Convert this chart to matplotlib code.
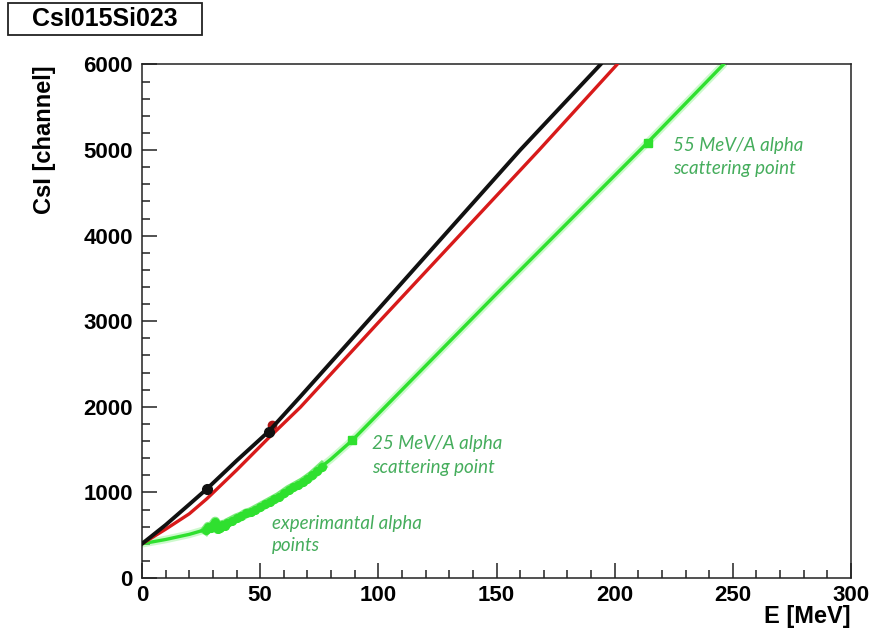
import matplotlib
matplotlib.use("Agg")
import matplotlib.pyplot as plt
from matplotlib.patches import Rectangle
from matplotlib.ticker import MultipleLocator

# ---------------- data ----------------
black_E = [0, 10, 20, 27.4, 40, 53.7, 67, 100, 160, 194]
black_ch = [400, 620, 860, 1040, 1370, 1715, 2120, 3140, 5000, 6000]

red_E = [0, 10, 20, 27.4, 40, 53.7, 67, 100, 168, 201]
red_ch = [400, 570, 750, 925, 1260, 1640, 1995, 2985, 5000, 6000]

black_pts_E = [27.4, 53.7]
black_pts_ch = [1040, 1710]
red_pts_E = [55.2]
red_pts_ch = [1790]

green_E = [0, 10, 20, 30, 40, 50, 60, 70, 80, 89, 150, 214, 246]
green_ch = [400, 450, 510, 590, 700, 830, 1000, 1170, 1390, 1610, 3320, 5090, 6000]

exp_E = [27, 28, 29, 30, 31, 31.5, 32, 33, 34, 35, 36, 38, 40, 42, 44, 46,
         48, 50, 52, 54, 56, 58, 60, 62, 64, 66, 68, 70, 72, 74, 76]
exp_ch = [560, 600, 580, 620, 660, 600, 570, 590, 620, 610, 640, 670, 700,
          720, 755, 770, 800, 830, 860, 890, 920, 950, 990, 1030, 1060, 1090,
          1120, 1160, 1200, 1250, 1300]

scat_E = [89, 214]
scat_ch = [1610, 5080]

title_text = "CsI015Si023"
xlabel_text = "E [MeV]"
ylabel_text = "CsI [channel]"
ann_55 = ["55 MeV/A alpha", "scattering point"]
ann_25 = ["25 MeV/A alpha", "scattering point"]
ann_exp = ["experimantal alpha", "points"]

# ---------------- figure ----------------
W, H = 871, 635
fig = plt.figure(figsize=(W / 100, H / 100), dpi=100)
fig.patch.set_facecolor("white")

L, R, T, B = 142, 851, 64.5, 578
ax = fig.add_axes([L / W, 1 - B / H, (R - L) / W, (B - T) / H])

BOLD = dict(family=["Liberation Sans", "DejaVu Sans"], weight="bold")

# lines
GREEN = "#2fe02f"
ax.plot(green_E, green_ch, color="#9af59a", lw=5.5, alpha=0.5, solid_capstyle="round", zorder=2)
ax.plot(green_E, green_ch, color=GREEN, lw=2.4, zorder=3)
ax.plot(exp_E, exp_ch, "o", color=GREEN, ms=5.5, mec=GREEN, zorder=3)
ax.plot(exp_E, exp_ch, color=GREEN, lw=7, alpha=0.6, zorder=3)
ax.plot(scat_E, scat_ch, "s", color=GREEN, ms=6, zorder=4)

ax.plot(red_E, red_ch, color="#d81a1a", lw=2.4, zorder=4)
ax.plot(red_pts_E, red_pts_ch, "o", color="#b01515", ms=6, zorder=4)
ax.plot(black_E, black_ch, color="#111111", lw=2.8, zorder=5)
ax.plot(black_pts_E, black_pts_ch, "o", color="#111111", ms=7, zorder=6)

ax.set_xlim(0, 300)
ax.set_ylim(0, 6000)

ax.xaxis.set_major_locator(MultipleLocator(50))
ax.xaxis.set_minor_locator(MultipleLocator(10))
ax.yaxis.set_major_locator(MultipleLocator(1000))
ax.yaxis.set_minor_locator(MultipleLocator(200))

ax.tick_params(which="both", direction="in", top=False, right=False, width=1.1, color="#222222")
ax.tick_params(which="major", length=10.5)
ax.tick_params(which="minor", length=5.5)
ax.tick_params(axis="x", which="major", pad=5)
ax.tick_params(axis="y", which="major", pad=6.5)

for lab in ax.get_xticklabels() + ax.get_yticklabels():
    lab.set_fontsize(16)
    lab.set_fontfamily(["Liberation Sans", "DejaVu Sans"])
    lab.set_fontweight("bold")

for sp in ax.spines.values():
    sp.set_linewidth(1.1)
    sp.set_color("#222222")

# axis titles
fig.text(R / W, 1 - 616 / H, xlabel_text, ha="right", va="center", fontsize=17, **BOLD)
fig.text(45 / W, 1 - 65 / H, ylabel_text, ha="center", va="top", rotation=90, fontsize=17, **BOLD)

# title box
fig.patches.append(Rectangle((8 / W, 1 - 35 / H), 194 / W, 32 / H, transform=fig.transFigure,
                             facecolor="white", edgecolor="#222222", lw=1.3))
fig.text(105 / W, 1 - 19.5 / H, title_text, ha="center", va="center", fontsize=18, **BOLD)

# annotations
ANN = dict(color="#45ad5c", fontsize=13.5, fontstyle="italic",
           family=["Lato", "Open Sans", "DejaVu Sans"], ha="left", va="center",
           transform=fig.transFigure)
fig.text(673 / W, 1 - 146 / H, ann_55[0], **ANN)
fig.text(673 / W, 1 - 169 / H, ann_55[1], **ANN)
fig.text(372 / W, 1 - 443 / H, ann_25[0], **ANN)
fig.text(372 / W, 1 - 468 / H, ann_25[1], **ANN)
fig.text(272 / W, 1 - 523 / H, ann_exp[0], **ANN)
fig.text(272 / W, 1 - 546 / H, ann_exp[1], **ANN)

fig.savefig("out.png", dpi=100, facecolor="white")
